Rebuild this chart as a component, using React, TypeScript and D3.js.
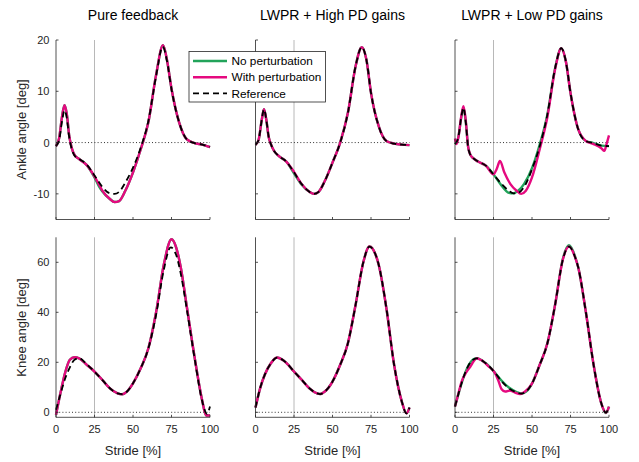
import React from "react";
import * as d3 from "d3";

// ---------- data ----------
const titles = ["Pure feedback", "LWPR + High PD gains", "LWPR + Low PD gains"];
const xTicks = [0, 25, 50, 75, 100];
const ankleTicks = [-10, 0, 10, 20];
const kneeTicks = [0, 20, 40, 60];
const legendLabels = ["No perturbation", "With perturbation", "Reference"];

// Ankle, panel 1 (Pure feedback)
const a1RefT = [0, 2, 4, 5.5, 7, 8.5, 10, 12, 15, 20, 25, 30, 35, 38, 41, 45, 50, 55, 60, 65, 69.3, 72, 75, 80, 85, 90, 95, 100];
const a1Ref = [-0.7, 0.4, 4.3, 6.3, 4.8, 1.2, -1.0, -2.5, -3.2, -4.3, -6.4, -8.6, -9.9, -10.0, -9.6, -7.8, -4.9, -1.0, 4.2, 13.0, 18.7, 16.0, 10.4, 3.9, 0.6, -0.1, -0.4, -0.8];
const a1NoT = [0, 2, 4, 5.5, 7, 8.5, 10, 12, 15, 20, 25, 28, 30, 35, 38, 41, 45, 50, 55, 60, 65, 69.5, 72, 75, 80, 85, 90, 95, 100];
const a1No = [-0.7, 0.8, 5.2, 7.3, 5.6, 1.5, -0.8, -2.4, -3.2, -4.4, -6.8, -8.6, -9.5, -11.0, -11.6, -11.4, -9.4, -5.8, -1.3, 4.0, 13.2, 19.0, 16.2, 10.5, 3.9, 0.6, -0.1, -0.4, -0.9];
const a1With = [-0.7, 0.8, 5.2, 7.3, 5.6, 1.5, -0.8, -2.4, -3.2, -4.4, -6.6, -8.2, -9.3, -11.0, -11.6, -11.4, -9.4, -5.8, -1.3, 4.0, 13.2, 19.0, 16.2, 10.5, 3.9, 0.6, -0.1, -0.4, -0.9];

// Ankle, panel 2 (High PD gains)
const a2T = [0, 2, 4, 5.5, 7, 8.5, 10, 12, 15, 20, 25, 30, 35, 38, 41, 45, 50, 55, 60, 65, 69, 72, 75, 80, 85, 90, 95, 100];
const a2Ref = [-0.45, 0.5, 4.3, 6.5, 4.5, 1.2, -0.3, -1.6, -2.6, -3.7, -5.8, -8.1, -9.6, -10.0, -9.6, -7.5, -3.9, 0.0, 5.8, 14.9, 18.6, 16.2, 9.7, 3.2, 0.3, -0.2, -0.4, -0.5];
const a2No = [-0.45, 0.5, 4.3, 6.5, 4.5, 1.2, -0.3, -1.6, -2.6, -3.7, -6.0, -8.2, -9.6, -10.0, -9.6, -7.5, -3.9, 0.0, 5.8, 14.9, 18.6, 16.2, 9.7, 3.2, 0.3, -0.2, -0.4, -0.5];
const a2With = [-0.45, 0.5, 4.3, 6.5, 4.5, 1.2, -0.3, -1.6, -2.6, -3.7, -5.7, -8.1, -9.6, -10.0, -9.6, -7.5, -3.9, 0.0, 5.8, 14.9, 18.6, 16.2, 9.7, 3.2, 0.3, -0.2, -0.4, -0.5];

// Ankle, panel 3 (Low PD gains)
const a3T = [0, 2, 4, 5.5, 7, 8.5, 10, 12, 15, 20, 25, 30, 35, 38, 41, 45, 50, 55, 60, 65, 69, 72, 75, 80, 85, 90, 95, 100];
const a3Ref = [-0.3, 0.8, 4.8, 6.8, 4.0, -0.8, -2.4, -3.1, -3.7, -4.5, -6.2, -8.0, -9.4, -9.9, -9.8, -8.6, -5.2, -0.7, 5.5, 14.5, 18.4, 15.8, 9.7, 2.6, 0.3, -0.1, -0.6, -0.7];
const a3No = [-0.3, 0.8, 4.8, 6.8, 4.0, -0.8, -2.4, -3.1, -3.7, -4.5, -6.2, -8.3, -9.8, -9.9, -9.4, -8.0, -5.0, -0.4, 5.5, 14.5, 18.4, 15.8, 9.7, 2.6, 0.3, -0.1, -0.6, -0.7];
const a3WithT = [0, 1, 2.5, 4, 5.5, 7, 8.5, 10, 12, 15, 20, 25, 27, 29.2, 32, 36, 40, 43, 46, 50, 55, 60, 65, 69, 72, 75, 80, 85, 90, 95, 97, 98.5, 100];
const a3With = [0.8, -0.3, 1.6, 5.0, 7.1, 4.3, -0.8, -2.4, -3.1, -3.7, -4.5, -6.2, -5.2, -3.6, -5.8, -8.1, -9.4, -10.0, -9.4, -6.8, -1.3, 5.0, 14.3, 18.4, 15.8, 9.7, 2.6, 0.3, -0.3, -1.1, -1.6, -0.2, 1.4];

// Knee, panel 1
const k1T = [0, 3, 6, 9, 12, 15, 20, 25, 30, 35, 40, 43, 46, 50, 55, 60, 65, 70, 74.5, 78, 81, 85, 90, 95, 98, 100];
const k1Ref = [1.0, 7.5, 13.6, 18.0, 21.0, 21.6, 19.2, 16.3, 13.0, 9.6, 7.6, 7.3, 8.2, 11.6, 17.6, 25.6, 39.0, 57.0, 66.0, 63.0, 55.5, 41.0, 21.6, 4.3, -0.6, 2.3];
const k1PT = [0, 3, 6, 9, 12, 15, 20, 25, 30, 35, 40, 43, 46, 50, 55, 60, 65, 70, 75, 78, 81, 85, 90, 95, 97.5, 100];
const k1No = [-1.0, 8.0, 16.0, 21.0, 22.0, 21.6, 19.0, 16.3, 13.0, 9.6, 7.6, 7.2, 8.3, 11.6, 17.6, 25.6, 40.0, 59.0, 69.2, 66.0, 58.0, 42.0, 22.0, 4.5, -1.3, -1.3];
const k1With = [-1.0, 8.0, 16.0, 21.0, 22.0, 21.6, 19.0, 16.3, 13.0, 9.6, 7.6, 7.2, 8.3, 11.6, 17.6, 25.6, 40.0, 59.0, 69.2, 66.0, 58.0, 42.0, 22.0, 4.5, -1.3, -1.3];

// Knee, panel 2
const k2T = [0, 3, 6, 10, 14, 18, 20, 25, 30, 35, 40, 42, 45, 50, 55, 60, 65, 70, 74, 78, 80, 85, 90, 95, 98, 100];
const k2Ref = [1.9, 9.6, 15.0, 19.6, 21.9, 20.8, 19.8, 16.3, 13.0, 9.6, 7.6, 7.3, 8.3, 12.3, 19.0, 27.6, 43.0, 60.0, 66.3, 63.0, 59.0, 41.6, 19.0, 4.3, -0.4, 1.9];
const k2No = [1.9, 9.6, 15.0, 19.6, 21.9, 20.8, 19.8, 16.3, 13.0, 9.6, 7.6, 7.3, 8.3, 12.3, 19.0, 27.6, 43.0, 60.0, 66.3, 63.0, 59.0, 41.6, 19.0, 4.3, -0.4, 1.9];
const k2With = [1.9, 9.6, 15.0, 19.6, 21.9, 20.8, 19.8, 16.3, 13.0, 9.6, 7.6, 7.3, 8.3, 12.3, 19.0, 27.6, 43.0, 60.0, 66.3, 63.0, 59.0, 41.6, 19.0, 4.3, -0.4, 1.9];

// Knee, panel 3
const k3T = [0, 3, 6, 9, 14, 20, 26, 30, 35, 40, 43, 46, 50, 55, 60, 65, 70, 74, 78, 80, 85, 90, 95, 98, 100];
const k3Ref = [2.3, 9.0, 14.8, 19.0, 21.6, 19.6, 15.8, 12.6, 9.6, 8.0, 7.5, 8.2, 11.5, 19.0, 27.6, 43.0, 61.0, 66.3, 62.0, 58.0, 40.0, 19.0, 3.6, -0.1, 2.3];
const k3No = [2.3, 9.0, 14.8, 19.0, 21.6, 19.6, 15.8, 12.8, 9.9, 8.1, 7.5, 8.2, 11.5, 19.0, 27.6, 43.0, 61.3, 66.8, 62.3, 58.0, 40.0, 19.0, 3.6, -0.3, 2.3];
const k3WithT = [0, 2, 4.3, 7.6, 10, 12, 14, 17, 21.6, 26, 28, 30.3, 32.5, 35.7, 39, 42.2, 45.5, 50, 55, 60, 65, 70, 74, 78, 80, 85, 90, 95, 98, 100];
const k3With = [2.3, 7.0, 12.3, 16.3, 18.3, 20.3, 21.6, 20.9, 18.5, 15.6, 12.9, 9.2, 8.3, 8.7, 7.9, 7.3, 8.3, 11.5, 19.0, 27.6, 43.0, 61.0, 66.3, 62.0, 58.0, 40.0, 19.0, 3.6, -0.1, 2.3];

// ---------- layout ----------
const W = 639;
const H = 462;
const panelX = [56, 255.5, 455];
const panelW = 154;
const topRange: [number, number] = [219.5, 40];
const botRange: [number, number] = [417.3, 237.3];
const GREEN = "#22a35a";
const MAGENTA = "#e5097f";
const AXIS = "#262626";
const FONT = "'Liberation Sans', Arial, Helvetica, sans-serif";

type Series = { t: number[]; v: number[] };
const zip = (s: Series) => s.t.map((t, i) => [t, s.v[i]] as [number, number]);

const ankleSets: Series[][] = [
  [{ t: a1NoT, v: a1No }, { t: a1NoT, v: a1With }, { t: a1RefT, v: a1Ref }],
  [{ t: a2T, v: a2No }, { t: a2T, v: a2With }, { t: a2T, v: a2Ref }],
  [{ t: a3T, v: a3No }, { t: a3WithT, v: a3With }, { t: a3T, v: a3Ref }],
];
const kneeSets: Series[][] = [
  [{ t: k1PT, v: k1No }, { t: k1PT, v: k1With }, { t: k1T, v: k1Ref }],
  [{ t: k2T, v: k2No }, { t: k2T, v: k2With }, { t: k2T, v: k2Ref }],
  [{ t: k3T, v: k3No }, { t: k3WithT, v: k3With }, { t: k3T, v: k3Ref }],
];

function Panel(props: {
  x0: number;
  range: [number, number];
  domain: [number, number];
  yTicks: number[];
  sets: Series[];
  showYLabels: boolean;
  showXLabels: boolean;
}) {
  const { x0, range, domain, yTicks, sets, showYLabels, showXLabels } = props;
  const x = d3.scaleLinear().domain([0, 100]).range([x0, x0 + panelW]);
  const y = d3.scaleLinear().domain(domain).range(range);
  const line = d3
    .line<[number, number]>()
    .x((d) => x(d[0]))
    .y((d) => y(d[1]))
    .curve(d3.curveMonotoneX);
  const yb = range[0];
  const yt = range[1];
  const tl = 2.5;
  return (
    <g>
      <line x1={x(25)} x2={x(25)} y1={yb} y2={yt} stroke="#b8b8b8" strokeWidth={1} />
      <line x1={x(0)} x2={x(100)} y1={y(0)} y2={y(0)} stroke="#333" strokeWidth={1} strokeDasharray="1,2.2" />
      <path d={line(zip(sets[0])) || ""} fill="none" stroke={GREEN} strokeWidth={2.4} />
      <path d={line(zip(sets[1])) || ""} fill="none" stroke={MAGENTA} strokeWidth={2.4} />
      <path d={line(zip(sets[2])) || ""} fill="none" stroke="#000" strokeWidth={1.8} strokeDasharray="6,4" />
      {/* axes */}
      <line x1={x0} x2={x0} y1={yb} y2={yt} stroke={AXIS} strokeWidth={0.8} />
      <line x1={x0} x2={x0 + panelW} y1={yb} y2={yb} stroke={AXIS} strokeWidth={0.8} />
      {xTicks.map((t) => (
        <g key={"xt" + t}>
          <line x1={x(t)} x2={x(t)} y1={yb} y2={yb - tl} stroke={AXIS} strokeWidth={0.8} />
          {showXLabels && (
            <text x={x(t)} y={yb + 16} textAnchor="middle" fontSize={11} fill={AXIS} fontFamily={FONT}>
              {t}
            </text>
          )}
        </g>
      ))}
      {yTicks.map((v) => (
        <g key={"yt" + v}>
          <line x1={x0} x2={x0 + tl} y1={y(v)} y2={y(v)} stroke={AXIS} strokeWidth={0.8} />
          {showYLabels && (
            <text x={x0 - 6.5} y={y(v) + 4} textAnchor="end" fontSize={11} fill={AXIS} fontFamily={FONT}>
              {v}
            </text>
          )}
        </g>
      ))}
    </g>
  );
}

export default function App() {
  const legendX = 189;
  const legendY = 51.5;
  const legendColors = [GREEN, MAGENTA, "#000"];
  return (
    <svg width={W} height={H} style={{ position: "absolute", left: 0, top: 0, background: "#fff" }}>
      <rect x={0} y={0} width={W} height={H} fill="#fff" />
      {titles.map((t, i) => (
        <text key={t} x={panelX[i] + panelW / 2} y={20} textAnchor="middle" fontSize={14} fill="#000" fontFamily={FONT}>
          {t}
        </text>
      ))}
      {panelX.map((px, i) => (
        <Panel key={"a" + i} x0={px} range={topRange} domain={[-15, 20]} yTicks={ankleTicks} sets={ankleSets[i]} showYLabels={i === 0} showXLabels={false} />
      ))}
      {panelX.map((px, i) => (
        <Panel key={"k" + i} x0={px} range={botRange} domain={[-2, 70]} yTicks={kneeTicks} sets={kneeSets[i]} showYLabels={i === 0} showXLabels={true} />
      ))}
      <text transform="translate(26,129.5) rotate(-90)" textAnchor="middle" fontSize={13} fill={AXIS} fontFamily={FONT}>
        Ankle angle [deg]
      </text>
      <text transform="translate(26,327.5) rotate(-90)" textAnchor="middle" fontSize={13} fill={AXIS} fontFamily={FONT}>
        Knee angle [deg]
      </text>
      {panelX.map((px, i) => (
        <text key={"xl" + i} x={px + panelW / 2} y={454.5} textAnchor="middle" fontSize={13} fill={AXIS} fontFamily={FONT}>
          Stride [%]
        </text>
      ))}
      {/* legend */}
      <rect x={legendX} y={legendY} width={136.5} height={50.5} fill="#fff" stroke={AXIS} strokeWidth={0.8} />
      {legendLabels.map((lab, i) => {
        const ly = legendY + 9.5 + i * 16.2;
        return (
          <g key={lab}>
            <line
              x1={legendX + 4}
              x2={legendX + 38}
              y1={ly}
              y2={ly}
              stroke={legendColors[i]}
              strokeWidth={i === 2 ? 1.8 : 2.4}
              strokeDasharray={i === 2 ? "6,4" : undefined}
            />
            <text x={legendX + 42.5} y={ly + 4.2} fontSize={11.8} fill="#000" fontFamily={FONT}>
              {lab}
            </text>
          </g>
        );
      })}
    </svg>
  );
}
